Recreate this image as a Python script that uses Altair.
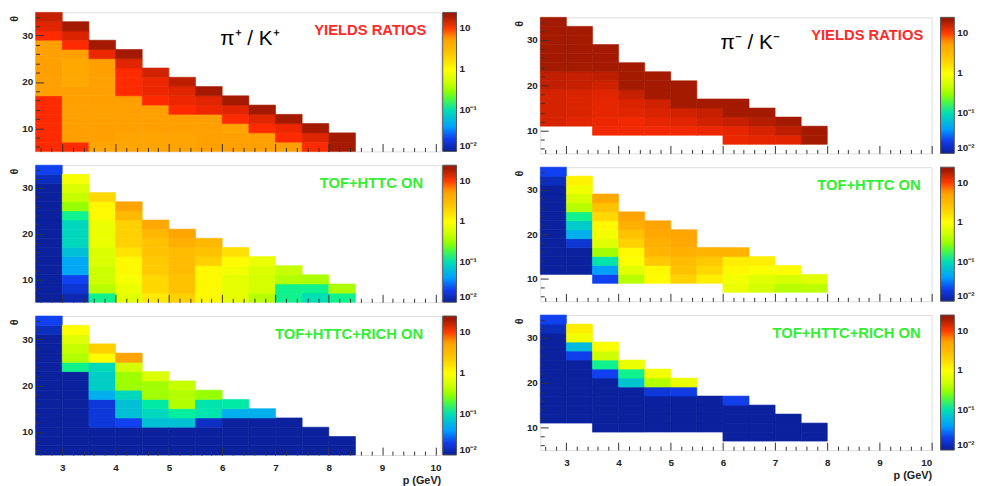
import altair as alt
import pandas as pd

FONT = "Liberation Sans"
TICK = "#333333"
_ = None

# bin edges of the 2-D histograms
P_BINS = [2.5, 3.0, 3.5, 4.0, 4.5, 5.0, 5.5, 6.0, 6.5, 7.0, 7.5, 8.0, 8.5]
THETA_BINS = [5, 7, 9, 11, 13, 15, 17, 19, 21, 23, 25, 27, 29, 31, 33, 35]

# axis ticks
X_LABELS = [3, 4, 5, 6, 7, 8, 9, 10]
X_MINOR = [2.6, 2.8, 3.2, 3.4, 3.6, 3.8, 4.2, 4.4, 4.6, 4.8, 5.2, 5.4, 5.6, 5.8,
           6.2, 6.4, 6.6, 6.8, 7.2, 7.4, 7.6, 7.8, 8.2, 8.4, 8.6, 8.8, 9.2, 9.4,
           9.6, 9.8]
Y_MAJOR = [10, 20, 30]
Y_MINOR = [6, 8, 12, 14, 16, 18, 22, 24, 26, 28, 32, 34]

# colour bar (log scale, ROOT-like palette)
CB_DOMAIN = [0.01, 0.0125, 0.021, 0.04, 0.073, 0.13, 0.25, 0.46, 1.0, 2.3, 5.5, 11, 20, 24.5]
CB_COLORS = ["#0b1e96", "#0c2cb8", "#1040f0", "#00a0ff", "#00c8cc", "#00f0a0", "#80ff00",
             "#c8ff00", "#ffff00", "#ffc800", "#ffa000", "#ff2a00", "#a41a00", "#9a1800"]
CB_TICKS = [0.01, 0.1, 1, 10]

# ---- cell values: one list per p bin, from theta = 5 upwards (None = empty) ----
PIP_YIELD = [
    [11, 11, 11, 11, 11, 11, 5.5, 5.5, 5.5, 5.5, 5.5, 5.5, 11, 13.5, 16],
    [11, 5.5, 5.5, 5.5, 5.5, 5.5, 5.5, 4.5, 4.5, 4.5, 5.5, 11, 14, 20],
    [5, 5.5, 5.5, 5.5, 5.5, 5.5, 5.5, 5.5, 5.5, 5.5, 12.5, 20],
    [5, 5, 5.5, 5.5, 5.5, 5.5, 11, 11, 11, 13.5, 20],
    [5, 5, 5.5, 5.5, 5.5, 11, 12.5, 12.5, 15],
    [5, 5, 5.5, 5.5, 11, 12.5, 13.5, 17],
    [5.5, 5.5, 5.5, 5.5, 12.5, 13.5, 20],
    [5.5, 5.5, 5, 11, 13.5, 20],
    [5.5, 5.5, 11, 13.5, 20],
    [5.5, 11, 12.5, 20],
    [11, 13.5, 20],
    [20, 20],
]
PIM_YIELD = [
    [_, _, _, 14.5, 14.5, 14.5, 14.5, 16.5, 16.5, 20, 20, 20, 20, 20, 20],
    [_, _, _, 13.5, 14, 14, 14, 16, 16, 20, 20, 20, 20, 20],
    [_, _, 12, 12.5, 13, 13, 13.5, 15, 17, 20, 20, 20],
    [_, _, 12, 12, 13.5, 14, 16, 20, 20, 20],
    [_, _, 12, 13, 14, 15, 20, 20, 20],
    [_, _, 12, 13.5, 15, 20, 20, 20],
    [_, _, 12.5, 15, 16, 20],
    [_, 12.5, 13, 16, 20, 20],
    [_, 13, 14.5, 18, 20],
    [_, 13.5, 17, 20],
    [_, 20, 20],
]
PIP_TOF = [
    [0.0105, 0.0105, 0.0105, 0.0105, 0.0105, 0.0105, 0.0105, 0.0105, 0.0105, 0.0105, 0.0105, 0.0105, 0.0105, 0.013, 0.021],
    [0.012, 0.016, 0.021, 0.045, 0.045, 0.065, 0.09, 0.09, 0.09, 0.14, 0.3, 0.45, 0.6, 0.9],
    [0.14, 0.4, 0.5, 0.5, 0.6, 0.6, 0.75, 0.75, 0.75, 1.1, 1.1, 1.8],
    [0.65, 0.75, 0.9, 1.1, 1.1, 1.5, 2.0, 2.0, 2.0, 3.2, 5.0],
    [1.4, 1.8, 1.8, 2.2, 2.2, 2.6, 2.6, 3.3, 4.5],
    [2.0, 2.6, 2.6, 3.0, 3.0, 3.0, 4.0, 5.0],
    [1.1, 1.1, 1.1, 1.1, 2.0, 2.6, 3.3],
    [0.7, 0.7, 0.7, 0.85, 1.05, 1.6],
    [0.4, 0.55, 0.55, 0.6, 0.75],
    [0.14, 0.14, 0.38, 0.45],
    [0.1, 0.14, 0.36],
    [0.14, 0.36],
]
PIM_TOF = [
    [_, _, _, 0.0105, 0.0105, 0.0105, 0.0105, 0.0105, 0.0105, 0.0105, 0.0105, 0.0105, 0.0105, 0.013, 0.021],
    [_, _, _, 0.0105, 0.0105, 0.0105, 0.016, 0.05, 0.075, 0.14, 0.4, 0.55, 0.85, 1.2],
    [_, _, 0.021, 0.04, 0.11, 0.33, 0.65, 0.85, 1.1, 1.8, 2.6, 4.5],
    [_, _, 0.4, 0.65, 0.95, 1.1, 2.0, 2.6, 4.0, 5.0],
    [_, _, 1.05, 1.1, 2.3, 3.5, 4.0, 4.5, 5.0],
    [_, _, 2.0, 2.6, 3.0, 4.0, 4.6, 5.0],
    [_, _, 1.3, 1.8, 2.3, 3.5],
    [_, 0.75, 0.85, 1.1, 1.3, 3.5],
    [_, 0.55, 0.65, 0.95, 1.3],
    [_, 0.4, 0.55, 1.05],
    [_, 0.42, 0.65],
]
PIP_RICH = [
    [0.0105, 0.0105, 0.0105, 0.0105, 0.0105, 0.0105, 0.0105, 0.0105, 0.0105, 0.0105, 0.0105, 0.0105, 0.0105, 0.013, 0.021],
    [0.0105, 0.0105, 0.0105, 0.0105, 0.0105, 0.0105, 0.0105, 0.0105, 0.0105, 0.14, 0.38, 0.45, 0.65, 1.0],
    [0.0105, 0.0105, 0.0105, 0.017, 0.017, 0.017, 0.05, 0.08, 0.08, 0.095, 1.05, 2.0],
    [0.0105, 0.0105, 0.0105, 0.021, 0.065, 0.065, 0.09, 0.32, 0.32, 0.55, 5.0],
    [0.0105, 0.0105, 0.0105, 0.065, 0.09, 0.12, 0.33, 0.33, 0.6],
    [0.0105, 0.0105, 0.0105, 0.065, 0.13, 0.38, 0.38, 0.45],
    [0.0105, 0.0105, 0.0105, 0.014, 0.11, 0.11, 0.3],
    [0.0105, 0.0105, 0.0105, 0.0105, 0.05, 0.12],
    [0.0105, 0.0105, 0.0105, 0.0105, 0.05],
    [0.0105, 0.0105, 0.0105, 0.0105],
    [0.0105, 0.0105, 0.0105],
    [0.0105, 0.0105],
]
PIM_RICH = [
    [_, _, _, 0.0105, 0.0105, 0.0105, 0.0105, 0.0105, 0.0105, 0.0105, 0.0105, 0.0105, 0.0105, 0.013, 0.021],
    [_, _, _, 0.0105, 0.0105, 0.0105, 0.0105, 0.0105, 0.0105, 0.0105, 0.02, 0.06, 0.85, 1.3],
    [_, _, 0.0105, 0.0105, 0.0105, 0.0105, 0.0105, 0.0105, 0.021, 0.14, 0.5, 0.95],
    [_, _, 0.0105, 0.0105, 0.0105, 0.0105, 0.0105, 0.07, 0.14, 0.75],
    [_, _, 0.0105, 0.0105, 0.0105, 0.0105, 0.017, 0.38, 0.85],
    [_, _, 0.0105, 0.0105, 0.0105, 0.0105, 0.019, 0.75],
    [_, _, 0.0105, 0.0105, 0.0105, 0.0105],
    [_, 0.0105, 0.0105, 0.0105, 0.0105, 0.02],
    [_, 0.0105, 0.0105, 0.0105, 0.0105],
    [_, 0.0105, 0.0105, 0.0105],
    [_, 0.0105, 0.0105],
]

RATIO_PLUS = "π⁺ / K⁺"
RATIO_MINUS = "π⁻ / K⁻"
NOTE_YIELD = "YIELDS RATIOS"
NOTE_TOF = "TOF+HTTC ON"
NOTE_RICH = "TOF+HTTC+RICH ON"

LBL_EXPR = ("datum.value >= 5 ? '10' : datum.value >= 0.5 ? '1' : "
            "datum.value >= 0.05 ? '10⁻¹' : '10⁻²'")


def panel(cols, xmax, w, h, bottom, note, note_color, note_x, ratio=None, cb_gap=2):
    recs = []
    for i, col in enumerate(cols):
        for j, v in enumerate(col):
            if v is not None:
                recs.append({"p0": P_BINS[i], "p1": P_BINS[i + 1],
                             "t0": THETA_BINS[j], "t1": THETA_BINS[j + 1], "v": v})
    df = pd.DataFrame(recs)
    xsc = alt.Scale(domain=[2.5, xmax], nice=False, zero=False)
    ysc = alt.Scale(domain=[5, 35], nice=False, zero=False)
    csc = alt.Scale(type="log", domain=CB_DOMAIN, range=CB_COLORS, interpolate="rgb")

    if bottom:
        xax = alt.Axis(values=X_LABELS, ticks=False, domain=False, grid=False,
                       labelFont=FONT, labelFontSize=10, labelFontWeight="bold",
                       labelColor="#222", labelPadding=8,
                       title="p (GeV)", titleFont=FONT, titleFontSize=11,
                       titleFontWeight="bold", titleColor="#222", titleAnchor="end",
                       titlePadding=2)
    else:
        xax = None
    yax = alt.Axis(values=Y_MAJOR, ticks=False, domain=False, grid=False, minExtent=0,
                   labelFont=FONT, labelFontSize=10, labelFontWeight="bold",
                   labelColor="#222", labelPadding=3,
                   title="θ", titleFont=FONT, titleFontSize=11, titleFontWeight="bold",
                   titleColor="#222", titleAngle=270, titleX=-21, titleY=6,
                   titleAlign="center", titleBaseline="middle")
    legend = alt.Legend(title=None, orient="none", legendX=w + cb_gap, legendY=0,
                        direction="vertical", gradientLength=h, gradientThickness=14,
                        values=CB_TICKS, labelExpr=LBL_EXPR, labelFont=FONT,
                        labelFontSize=10, labelFontWeight="bold", labelColor="#222",
                        labelOffset=3, labelBaseline="middle",
                        gradientStrokeColor="#555", gradientStrokeWidth=1, padding=0)

    base = alt.Chart(df)
    rect = base.mark_rect(strokeWidth=0.6).encode(
        x=alt.X("p0:Q", scale=xsc, axis=xax), x2="p1",
        y=alt.Y("t0:Q", scale=ysc, axis=yax), y2="t1",
        color=alt.Color("v:Q", scale=csc, legend=legend),
        stroke=alt.Stroke("v:Q", scale=csc, legend=None),
    )

    def tick_layer(xv, yv, size):
        return base.mark_point(opacity=0).encode(
            x=alt.X("p0:Q", scale=xsc,
                    axis=alt.Axis(orient="top", offset=-h, values=xv, tickSize=size,
                                  tickColor=TICK, labels=False, domain=False,
                                  grid=False, title=None, zindex=2)),
            y=alt.Y("t0:Q", scale=ysc,
                    axis=alt.Axis(orient="right", offset=-w, values=yv, tickSize=size,
                                  tickColor=TICK, labels=False, domain=False, minExtent=0,
                                  grid=False, title=None, zindex=2)),
        )

    layers = [rect, tick_layer(X_MINOR, Y_MINOR, 4), tick_layer(X_LABELS, Y_MAJOR, 8)]

    layers.append(
        alt.Chart(alt.Data(values=[{"s": note}])).mark_text(
            font=FONT, fontSize=15, fontWeight="bold", color=note_color,
            align="right", baseline="middle",
        ).encode(text="s:N", x=alt.XDatum(note_x, axis=None), y=alt.YDatum(31.1, axis=None))
    )
    if ratio:
        layers.append(
            alt.Chart(alt.Data(values=[{"s": ratio}])).mark_text(
                font=FONT, fontSize=21, color="#000", align="center", baseline="middle",
            ).encode(text="s:N", x=alt.XDatum(6.52, axis=None), y=alt.YDatum(29.3, axis=None))
        )

    return alt.layer(*layers).resolve_axis(x="independent", y="independent").properties(
        width=w, height=h)


RED = "#ff2a2a"
GREEN = "#33ee33"

left = alt.vconcat(
    panel(PIP_YIELD, 10.1, 411, 141, False, NOTE_YIELD, RED, 9.83, RATIO_PLUS),
    panel(PIP_TOF, 10.1, 411, 139, False, NOTE_TOF, GREEN, 9.77),
    panel(PIP_RICH, 10.1, 411, 141, True, NOTE_RICH, GREEN, 9.77),
    spacing=14, bounds="flush",
).resolve_scale(color="independent")

right_panels = alt.vconcat(
    panel(PIM_YIELD, 10.0, 397, 138, False, NOTE_YIELD, RED, 9.84, RATIO_MINUS, cb_gap=9),
    panel(PIM_TOF, 10.0, 397, 136, False, NOTE_TOF, GREEN, 9.79, cb_gap=9),
    panel(PIM_RICH, 10.0, 397, 137, True, NOTE_RICH, GREEN, 9.79, cb_gap=9),
    spacing=14, bounds="flush",
).resolve_scale(color="independent")

# small empty view that pushes the right-hand column a few pixels down
spacer = alt.Chart(alt.Data(values=[{}])).mark_rect(opacity=0).properties(
    width=1, height=1, view=alt.ViewBackground(stroke="transparent"))

right = alt.vconcat(spacer, right_panels, spacing=4, bounds="flush").resolve_scale(
    color="independent")

chart = alt.concat(left, right, columns=2, spacing=35, align="none").resolve_scale(
    color="independent"
).properties(
    padding={"left": 0, "top": 0, "right": 0, "bottom": 0}
).configure_view(stroke="#555555", strokeWidth=1).configure(font=FONT, background="white")

chart.save("out.html", embed_options={"renderer": "svg", "actions": False})
